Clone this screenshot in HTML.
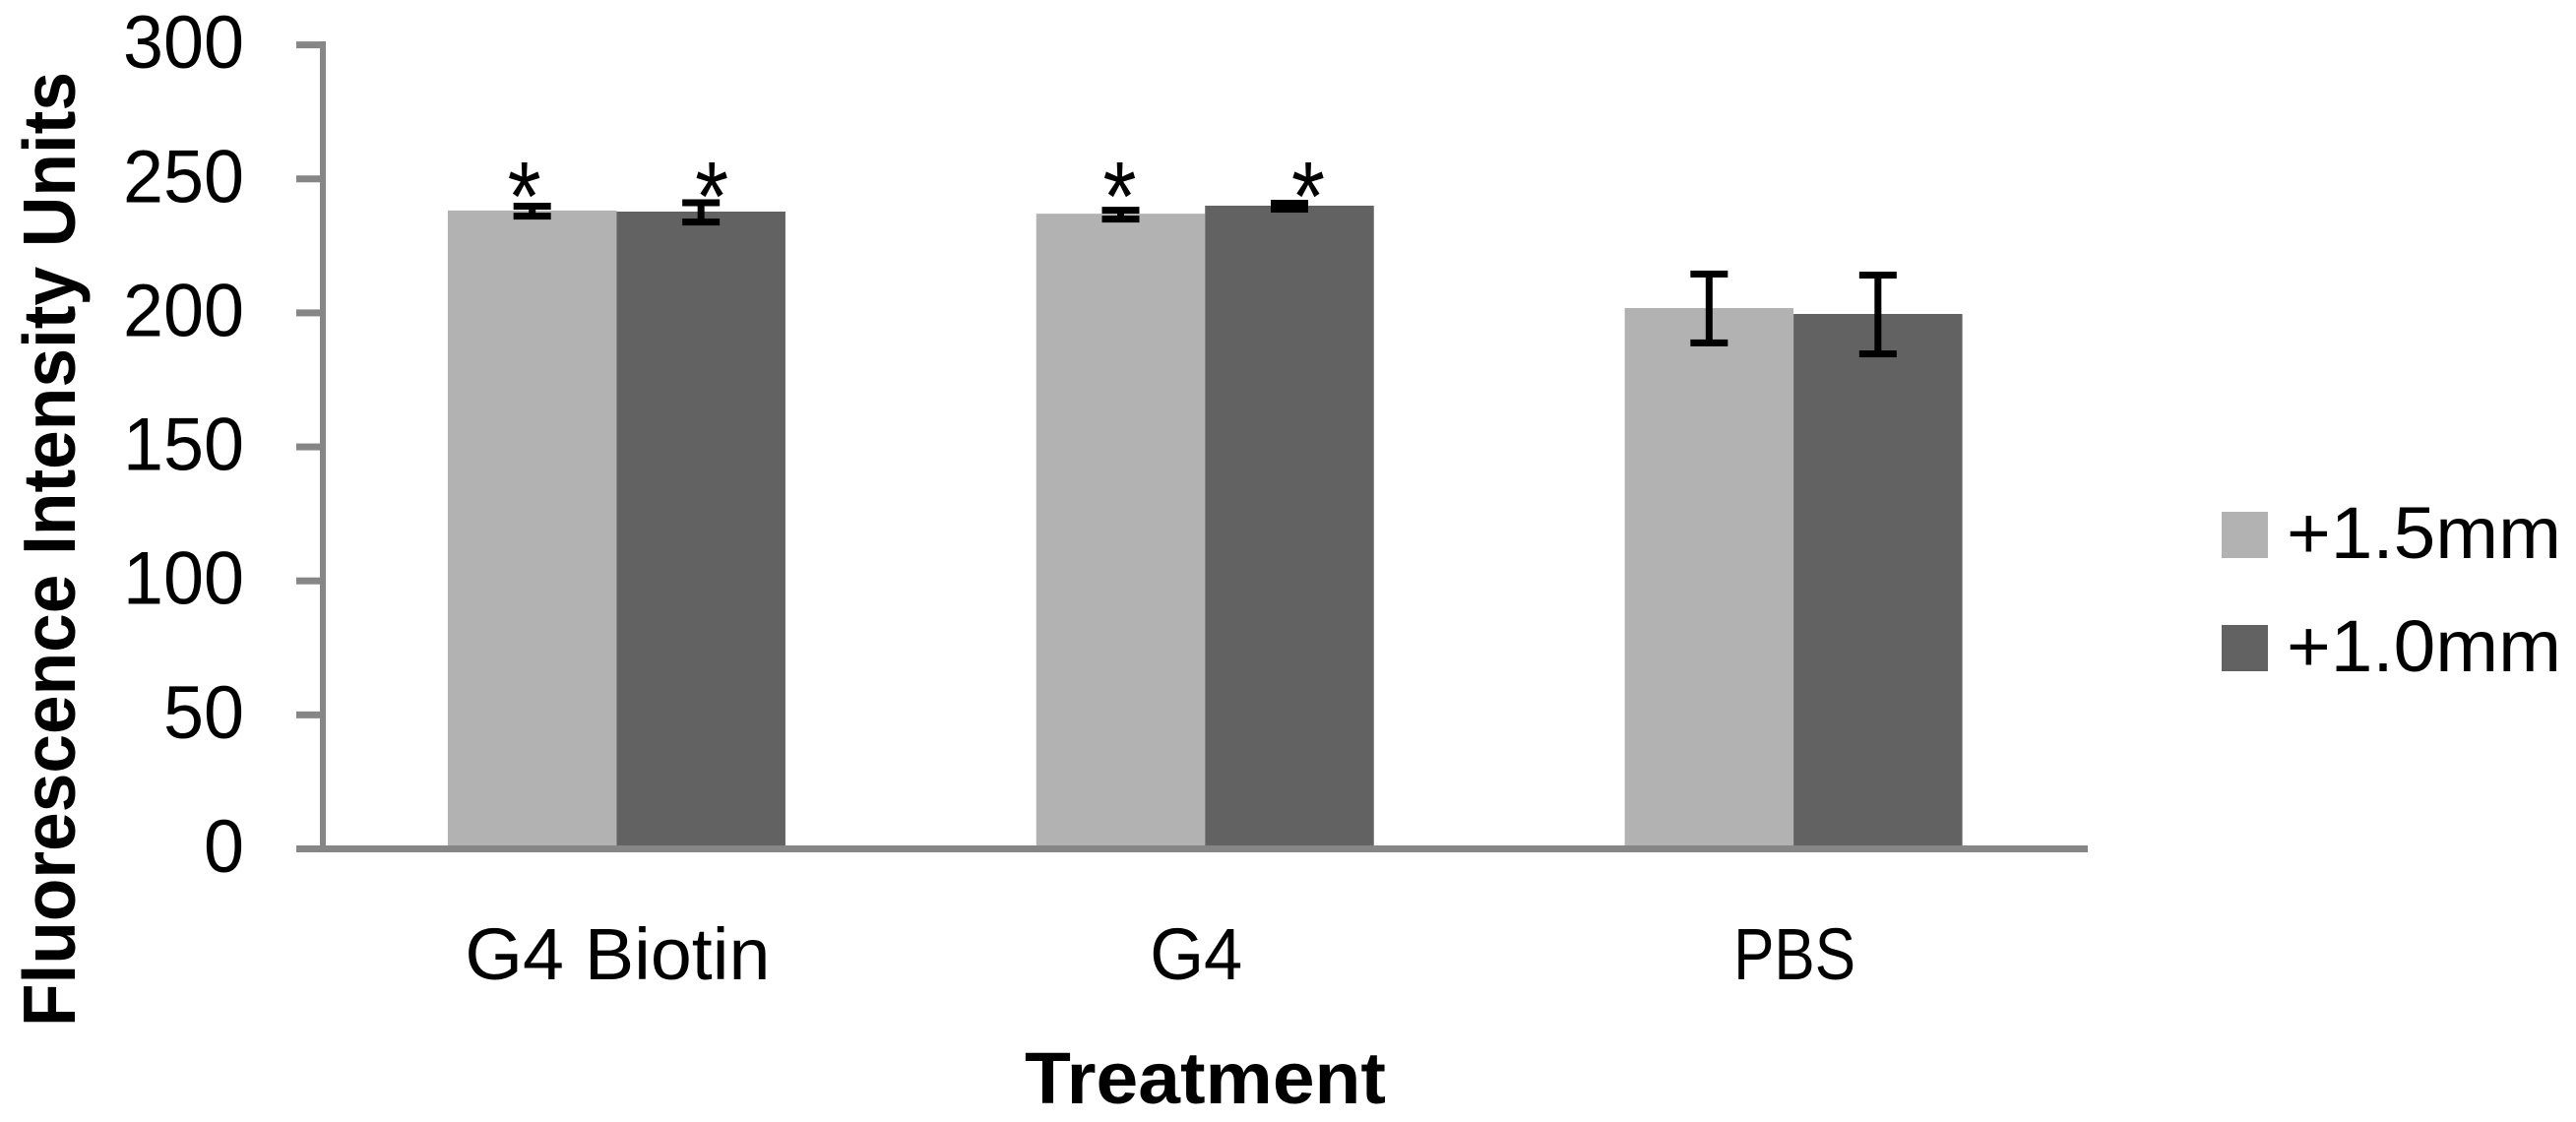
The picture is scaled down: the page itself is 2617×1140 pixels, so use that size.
<!DOCTYPE html>
<html lang="en">
<head>
<meta charset="utf-8">
<title>Fluorescence Intensity by Treatment</title>
<style>
html,body{margin:0;padding:0;background:#fff;}
body{width:2617px;height:1140px;overflow:hidden;}
svg{display:block;}
text{font-family:"Liberation Sans",sans-serif;fill:#000;}
</style>
</head>
<body>
<svg id="chart" xmlns="http://www.w3.org/2000/svg" width="2617" height="1140" viewBox="0 0 2617 1140">
  <rect x="0" y="0" width="2617" height="1140" fill="#ffffff"/>
  <g id="bars"></g>
  <g id="errors"></g>
  <g id="stars"></g>
  <g id="axes"></g>
  <text transform="translate(76,1043) rotate(-90)" font-size="75" font-weight="700" textLength="970" lengthAdjust="spacingAndGlyphs">Fluorescence Intensity Units</text>
  <text x="1041" y="1121" font-size="74" font-weight="700" textLength="367" lengthAdjust="spacingAndGlyphs">Treatment</text>
  <g>
    <g>
      <rect x="2257" y="520" width="47" height="47" fill="#b2b2b2"/>
      <text x="2323" y="567" font-size="74" textLength="279" lengthAdjust="spacingAndGlyphs">+1.5mm</text>
    </g>
    <g>
      <rect x="2257" y="635" width="47" height="47" fill="#626262"/>
      <text x="2323" y="682" font-size="74" textLength="279" lengthAdjust="spacingAndGlyphs">+1.0mm</text>
    </g>
  </g>
</svg>
<script>
const categories = ['G4 Biotin', 'G4', 'PBS'];
const seriesNames = ['+1.5mm', '+1.0mm'];
const series15 = [238.2, 237.0, 201.8];
const series10 = [237.8, 240.0, 199.6];
const errHigh15 = [239.8, 238.3, 214.5];
const errLow15 = [236.1, 235.0, 188.8];
const errHigh10 = [241.1, 240.9, 214.1];
const errLow10 = [233.9, 238.7, 184.7];
const significant15 = [true, true, false];
const significant10 = [true, true, false];
const yTicks = [0, 50, 100, 150, 200, 250, 300];

const NS = 'http://www.w3.org/2000/svg';
const AXIS = '#868686';
const plotLeft = 327.5, plotRight = 2121, plotBottom = 862.5, plotTop = 45.6;
const yMax = 300;
const y = v => plotBottom - (v / yMax) * (plotBottom - plotTop);
const band = (plotRight - plotLeft) / categories.length;
const barW = 171.5;
const catCenter = i => plotLeft + band * (i + 0.5);
const barX = (i, s) => catCenter(i) - barW + s * barW;

function mk(tag, parent, attrs) {
  const el = document.createElementNS(NS, tag);
  for (const k in attrs) el.setAttribute(k, attrs[k]);
  parent.appendChild(el);
  return el;
}
const barsG = document.getElementById('bars');
const errG = document.getElementById('errors');
const starsG = document.getElementById('stars');
const axesG = document.getElementById('axes');

const seriesVals = [series15, series10];
const seriesHigh = [errHigh15, errHigh10];
const seriesLow = [errLow15, errLow10];
const seriesSig = [significant15, significant10];
const seriesFill = ['#b2b2b2', '#626262'];
const starOffset = [[-8, 11], [-1, 19]];

seriesVals.forEach((vals, s) => {
  vals.forEach((v, i) => {
    const r = mk('rect', barsG, { x: barX(i, s), y: y(v), width: barW, height: y(0) - y(v), fill: seriesFill[s] });
    
    

    const cx = barX(i, s) + barW / 2;
    const hi = y(seriesHigh[s][i]);
    const lo = y(seriesLow[s][i]);
    const stem = mk('rect', errG, { x: cx - 3.5, y: hi, width: 7, height: lo - hi, fill: '#000' });
    
    
    [hi, lo].forEach(py => {
      const cap = mk('rect', errG, { x: cx - 19, y: py - 3.5, width: 38, height: 7, fill: '#000' });
      
      
    });

    if (seriesSig[s][i]) {
      const t = mk('text', starsG, { x: cx + starOffset[i][s], y: y(250) + 52, 'font-size': 100, 'text-anchor': 'middle', textLength: 34, lengthAdjust: 'spacingAndGlyphs' });
      t.textContent = '*';
      
      
    }
  });
});

const yAxisLine = mk('rect', axesG, { x: 325, y: plotTop - 3.5, width: 6, height: plotBottom - plotTop + 7, fill: AXIS });


const xAxisLine = mk('rect', axesG, { x: 301, y: plotBottom - 3.5, width: plotRight - 301, height: 7, fill: AXIS });



yTicks.forEach(v => {
  const tick = mk('rect', axesG, { x: 301, y: y(v) - 3.5, width: 30, height: 7, fill: AXIS });
  
  
  const label = String(v);
  const t = mk('text', axesG, { x: 248, y: y(v) + 23.5, 'font-size': 76, 'text-anchor': 'end', textLength: label.length * 41, lengthAdjust: 'spacingAndGlyphs' });
  t.textContent = label;
  
  
});

const catLabelWidth = [310, 94, 124];
const catLabelShift = [1, -9, 1];
categories.forEach((c, i) => {
  const t = mk('text', axesG, { x: catCenter(i) + catLabelShift[i], y: 995, 'font-size': 74, 'text-anchor': 'middle', textLength: catLabelWidth[i], lengthAdjust: 'spacingAndGlyphs' });
  t.textContent = c;
  
  
});
</script>
</body>
</html>
